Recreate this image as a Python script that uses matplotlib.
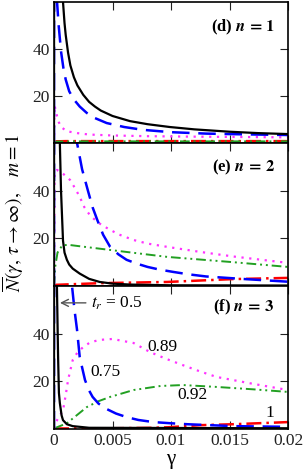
import matplotlib
matplotlib.use("Agg")
import matplotlib.pyplot as plt

plt.rcParams['font.family'] = ['Liberation Serif', 'DejaVu Serif']
plt.rcParams['mathtext.fontset'] = 'stix'

# ---------------- data ----------------
# panel (d) n = 1
d_black_g = [0, 0.00002, 0.0006, 0.00077, 0.0009, 0.001, 0.0012, 0.0014, 0.0017, 0.002, 0.0025, 0.003, 0.0035, 0.004, 0.005, 0.0065, 0.008, 0.0099, 0.012, 0.015, 0.0175, 0.02]
d_black_v = [0, 200, 200, 60, 51, 46, 38.5, 33, 28, 24.5, 20.5, 17.5, 15.5, 13.8, 11.5, 9.3, 8, 6.8, 5.8, 4.8, 4.2, 3.8]
d_blue_g = [0, 0.00002, 0.0001, 0.00026, 0.0004, 0.0006, 0.0008, 0.001, 0.0013, 0.0017, 0.0022, 0.0028, 0.0035, 0.0045, 0.006, 0.0076, 0.01, 0.013, 0.016, 0.02]
d_blue_v = [0, 200, 200, 60, 50, 39, 32, 27, 22, 18.5, 15.5, 12.8, 10.6, 8.5, 6.8, 5.6, 4.6, 4.0, 3.7, 3.4]
d_mag_g = [0, 0.00005, 0.0002, 0.0004, 0.0006, 0.0011, 0.002, 0.003, 0.005, 0.008, 0.012, 0.02]
d_mag_v = [0, 16, 12.5, 9, 6.8, 5.0, 4.2, 3.6, 3.2, 2.9, 2.7, 2.4]
d_green_g = [0, 0.0002, 0.002, 0.02]
d_green_v = [0, 0.6, 0.7, 0.7]
d_red_g = [0, 0.0002, 0.001, 0.02]
d_red_v = [0, 0.7, 0.8, 0.8]

# panel (e) n = 2
e_black_g = [0, 0.00002, 0.0004, 0.0005, 0.0006, 0.00077, 0.0009, 0.0011, 0.0013, 0.0016, 0.0022, 0.003, 0.0039, 0.005, 0.0065, 0.01, 0.02]
e_black_v = [0, 200, 200, 60, 40, 19, 14, 11, 9, 7.3, 5.2, 3.0, 1.7, 1.0, 0.6, 0.3, 0.2]
e_blue_g = [0, 0.00002, 0.0015, 0.00197, 0.0024, 0.0029, 0.0033, 0.0037, 0.0042, 0.0048, 0.0055, 0.0062, 0.007, 0.008, 0.009, 0.0102, 0.0115, 0.013, 0.016, 0.02]
e_blue_v = [0, 200, 200, 60, 49, 40, 33, 27.7, 21.5, 16.4, 13.3, 11, 9.5, 8, 6.9, 5.9, 4.9, 4.0, 3.0, 1.8]
e_mag_g = [0, 0.00005, 0.00026, 0.0008, 0.00137, 0.0018, 0.0022, 0.0026, 0.0031, 0.0038, 0.0045, 0.0055, 0.0068, 0.008, 0.0097, 0.0125, 0.0153, 0.02]
e_mag_v = [0, 48, 48.7, 47, 44.5, 41, 37.4, 33, 29.5, 26.5, 24.4, 21.7, 19.3, 17.8, 16.4, 14.3, 12.4, 9.7]
e_green_g = [0, 0.0001, 0.0003, 0.0007, 0.0012, 0.002, 0.005, 0.0097, 0.0153, 0.02]
e_green_v = [0, 8, 14, 17, 17.3, 16.8, 15, 12.2, 10, 8]
e_red_g = [0, 0.0002, 0.004, 0.0097, 0.0153, 0.02]
e_red_v = [0, 0.5, 1.2, 1.7, 2.9, 3.4]

# panel (f) n = 3
f_black_g = [0, 0.00002, 0.0002, 0.00025, 0.00035, 0.00042, 0.0005, 0.00065, 0.00077, 0.0011, 0.0016, 0.003, 0.02]
f_black_v = [0, 200, 200, 60, 30, 15, 10.7, 5.5, 3.5, 1.8, 1.0, 0.3, 0.1]
f_blue_g = [0, 0.00002, 0.0012, 0.00154, 0.00175, 0.00197, 0.0022, 0.00265, 0.003, 0.0033, 0.0038, 0.0045, 0.0053, 0.0062, 0.0072, 0.0085, 0.01, 0.0114, 0.0153, 0.02]
f_blue_v = [0, 200, 200, 60, 50, 41.5, 30, 20.4, 16, 13.3, 10.5, 8.2, 6.3, 4.8, 3.6, 2.7, 2.2, 1.8, 1.0, 0.7]
f_mag_g = [0, 0.00026, 0.00077, 0.001, 0.0012, 0.0016, 0.002, 0.0025, 0.0031, 0.0039, 0.005, 0.0068, 0.0082, 0.0095, 0.011, 0.0125, 0.0139, 0.0168, 0.02]
f_mag_v = [0, 3.5, 7.7, 14, 20.4, 28.8, 32, 34.3, 36.3, 37.3, 37.7, 36, 32.2, 29.5, 26.7, 24, 21.7, 19, 16.2]
f_green_g = [0, 0.0011, 0.002, 0.0028, 0.0038, 0.0048, 0.0068, 0.0091, 0.011, 0.0139, 0.017, 0.02]
f_green_v = [0, 2.2, 5.8, 9, 11.5, 13.3, 16.2, 17.9, 18.3, 17.5, 16.5, 15.4]
f_red_g = [0, 0.005, 0.0085, 0.0097, 0.0125, 0.0153, 0.02]
f_red_v = [0, 0.1, 0.3, 0.5, 1.4, 1.8, 2.7]

panel_labels = [r"(d) $\mathbfit{n}\,\mathbf{=}\,\mathbf{1}$",
                r"(e) $\mathbfit{n}\,\mathbf{=}\,\mathbf{2}$",
                r"(f) $\mathbfit{n}\,\mathbf{=}\,\mathbf{3}$"]
x_ticks = [0, 0.005, 0.01, 0.015, 0.02]
x_tick_labels = ["0", "0.005", "0.01", "0.015", "0.02"]
y_ticks = [20, 40]
curve_labels = ["0.89", "0.75", "0.92", "1"]
curve_label_pos = [(0.0093, 34.3), (0.00436, 23.7), (0.0118, 14.0), (0.01846, 6.5)]

panels = [
    [(d_black_g, d_black_v), (d_blue_g, d_blue_v), (d_mag_g, d_mag_v), (d_green_g, d_green_v), (d_red_g, d_red_v)],
    [(e_black_g, e_black_v), (e_blue_g, e_blue_v), (e_mag_g, e_mag_v), (e_green_g, e_green_v), (e_red_g, e_red_v)],
    [(f_black_g, f_black_v), (f_blue_g, f_blue_v), (f_mag_g, f_mag_v), (f_green_g, f_green_v), (f_red_g, f_red_v)],
]

styles = [
    dict(color='black', lw=1.6, ls='-'),
    dict(color='#0000ff', lw=1.8, ls=(0, (7, 3.5))),
    dict(color='#ff33ff', lw=1.6, ls=(0, (1, 2.5))),
    dict(color='#22a022', lw=1.4, ls=(0, (5, 2, 1, 2, 1, 2))),
    dict(color='#ff0000', lw=1.8, ls=(0, (6, 2, 1, 2))),
]

fig = plt.figure(figsize=(3.05, 4.75), dpi=100)
L, W = 54 / 305, (288 - 54) / 305
tops = [2, 143, 286]
bots = [143, 286, 428.5]
axes = []
for i in range(3):
    ax = fig.add_axes([L, 1 - bots[i] / 475, W, (bots[i] - tops[i]) / 475])
    axes.append(ax)
    for (g, v), st in reversed(list(zip(panels[i], styles))):
        ax.plot(g, v, **st)
    ax.set_xlim(0, 0.02)
    ax.set_ylim(0, 60)
    ax.set_xticks(x_ticks)
    ax.set_yticks(y_ticks)
    ax.tick_params(direction='in', top=True, right=True, length=6, width=0.8,
                   labelsize=12.5, colors='#222222', pad=3)
    for s in ax.spines.values():
        s.set_linewidth(1.2)
    ax.text(0.81, [0.82, 0.83, 0.85][i], panel_labels[i], transform=ax.transAxes,
            ha='center', va='center', fontsize=12, fontweight='bold')
    if i < 2:
        ax.set_xticklabels([])
    else:
        ax.set_xticklabels(x_tick_labels)
        ax.set_xlabel("γ", fontsize=15, labelpad=1)

axf = axes[2]
axf.annotate(r"$t_r$ = 0.5", xy=(0.00051, 52.9), xytext=(0.0032, 52.9),
             fontsize=12.5, va='center', ha='left',
             arrowprops=dict(arrowstyle='->', color='#555555', lw=1.0, shrinkA=2, shrinkB=0))
for lab, (x, y) in zip(curve_labels, curve_label_pos):
    axf.text(x, y, lab, fontsize=12.5, ha='center', va='center')

fig.text(0.044, 1 - 213 / 475, r"$\overline{N}(\gamma,\,\tau\rightarrow\infty),\quad m=1$",
         rotation=90, ha='center', va='center', fontsize=14)

fig.savefig("out.png", dpi=100)
